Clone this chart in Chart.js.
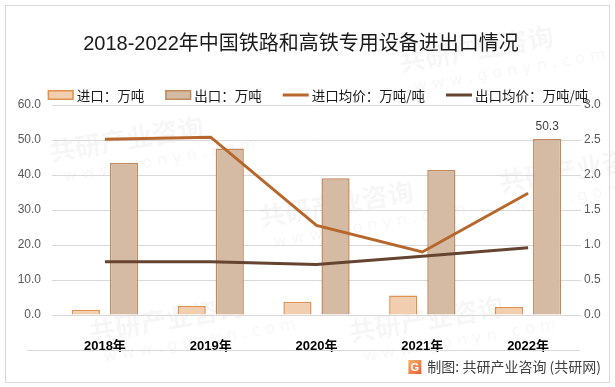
<!DOCTYPE html>
<html>
<head>
<meta charset="utf-8">
<script src="https://cdn.jsdelivr.net/npm/chart.js@4/dist/chart.umd.min.js"></script>
<style>
  html, body { margin: 0; padding: 0; background: #fff; }
</style>
</head>
<body>
<canvas id="chart" width="615" height="387"></canvas>
<script>
// data
const years = ['2018年', '2019年', '2020年', '2021年', '2022年']
const importVolume = [1.5, 2.6, 3.8, 5.6, 2.3]     // 进口：万吨
const exportVolume = [43.4, 47.6, 39.1, 41.4, 50.3] // 出口：万吨
const importPrice = [2.51, 2.54, 1.28, 0.90, 1.74]  // 进口均价：万吨/吨
const exportPrice = [0.76, 0.76, 0.72, 0.84, 0.96]  // 出口均价：万吨/吨
const seriesNames = ['进口：万吨', '出口：万吨', '进口均价：万吨/吨', '出口均价：万吨/吨']
const labelledPoint = 4 // only the 2022 export bar carries a value label

const title = '2018-2022年中国铁路和高铁专用设备进出口情况'
const source = '制图: 共研产业咨询 (共研网)'

const tickFont = { family: "'Liberation Sans', 'Noto Sans CJK SC', sans-serif", size: 12 }

const decor = {
  id: 'decor',
  beforeDraw (chart) {
    const { ctx } = chart
    ctx.save()
    ctx.fillStyle = '#fff'
    ctx.fillRect(0, 0, chart.width, chart.height)
    // faint watermarks
    ctx.fillStyle = 'rgba(0,0,0,0.035)'
    const marks = [[120, 150], [330, 215], [470, 60], [160, 330], [420, 330], [570, 180]]
    marks.forEach(([x, y]) => {
      ctx.save()
      ctx.translate(x, y)
      ctx.rotate(-0.17)
      ctx.font = "bold 26px 'Noto Sans CJK SC'"
      ctx.fillText('共研产业咨询', -70, 0)
      ctx.font = "16px 'DejaVu Sans'"
      ctx.fillText('w w w . g o n y n . c o m', -60, 22)
      ctx.restore()
    })
    ctx.restore()
  },
  afterDraw (chart) {
    const { ctx } = chart
    ctx.save()

    // title
    ctx.fillStyle = '#1a1a1a'
    ctx.font = "20px 'Liberation Sans', 'Noto Sans CJK SC', sans-serif"
    ctx.textAlign = 'center'
    ctx.textBaseline = 'middle'
    ctx.fillText(title, 301, 44)

    // legend
    ctx.font = "13.5px 'Noto Sans CJK SC', sans-serif"
    ctx.textAlign = 'left'
    const boxW = 26, gap = 21, textGap = 3
    const ds = chart.data.datasets
    const widths = ds.map(d => boxW + textGap + ctx.measureText(d.label).width)
    const total = widths.reduce((a, b) => a + b, 0) + gap * (ds.length - 1)
    let x = 318 - total / 2
    const ly = 95
    ds.forEach((d, i) => {
      if (d.type === 'line') {
        ctx.strokeStyle = d.borderColor
        ctx.lineWidth = 3
        ctx.beginPath()
        ctx.moveTo(x, ly)
        ctx.lineTo(x + boxW, ly)
        ctx.stroke()
      } else {
        ctx.fillStyle = d.backgroundColor
        ctx.fillRect(x, ly - 5, boxW, 10)
        ctx.strokeStyle = d.borderColor
        ctx.lineWidth = 1.5
        ctx.strokeRect(x + 0.75, ly - 4.25, boxW - 1.5, 8.5)
      }
      ctx.fillStyle = '#1a1a1a'
      ctx.fillText(d.label, x + boxW + textGap, ly + 1)
      x += widths[i] + gap
    })

    // value label on the 2022 export bar
    const bar = chart.getDatasetMeta(1).data[labelledPoint]
    ctx.fillStyle = '#404040'
    ctx.font = "12px 'Liberation Sans', sans-serif"
    ctx.textAlign = 'center'
    ctx.fillText(exportVolume[labelledPoint].toFixed(1), bar.x, bar.y - 12)

    // line under the category labels
    ctx.strokeStyle = '#d9d9d9'
    ctx.lineWidth = 1
    ctx.beginPath()
    ctx.moveTo(27, 350.5)
    ctx.lineTo(580, 350.5)
    ctx.stroke()

    // outer frame
    ctx.strokeRect(5.5, 5.5, 604, 377)

    // source with logo
    ctx.font = "14px 'Noto Sans CJK SC', sans-serif"
    ctx.textAlign = 'right'
    ctx.fillStyle = '#404040'
    ctx.fillText(source, 601, 367)
    const tw = ctx.measureText(source).width
    const lx = 601 - tw - 19
    const g = ctx.createLinearGradient(lx, 360, lx + 13, 374)
    g.addColorStop(0, '#f7b267')
    g.addColorStop(1, '#e8603c')
    ctx.fillStyle = g
    ctx.fillRect(lx, 360, 13, 14)
    ctx.fillStyle = '#fff'
    ctx.font = "bold 11px 'Liberation Sans', sans-serif"
    ctx.textAlign = 'center'
    ctx.fillText('G', lx + 6.5, 367.5)

    ctx.restore()
  }
}

new Chart(document.getElementById('chart'), {
  type: 'bar',
  data: {
    labels: years,
    datasets: [{
      label: seriesNames[0],
      data: importVolume,
      backgroundColor: '#f2ceb1',
      borderColor: '#de924f',
      borderWidth: 1.5,
      yAxisID: 'y',
      order: 3
    },
    {
      label: seriesNames[1],
      data: exportVolume,
      backgroundColor: '#d6bba4',
      borderColor: '#c0895e',
      borderWidth: 1.5,
      yAxisID: 'y',
      order: 4
    },
    {
      type: 'line',
      label: seriesNames[2],
      data: importPrice,
      borderColor: '#b7672c',
      borderWidth: 3,
      pointRadius: 0,
      tension: 0,
      yAxisID: 'y1',
      order: 1
    },
    {
      type: 'line',
      label: seriesNames[3],
      data: exportPrice,
      borderColor: '#654430',
      borderWidth: 3,
      pointRadius: 0,
      tension: 0,
      yAxisID: 'y1',
      order: 0
    }]
  },
  options: {
    responsive: false,
    devicePixelRatio: 1,
    animation: false,
    layout: { padding: { top: 105, left: 0, right: 0, bottom: 0 } },
    datasets: {
      bar: { categoryPercentage: 0.72, barPercentage: 0.74 }
    },
    plugins: {
      legend: { display: false },
      title: { display: false },
      tooltip: { enabled: false }
    },
    scales: {
      x: {
        grid: { display: false },
        border: { display: false },
        ticks: {
          padding: 16,
          color: '#000',
          font: { family: "'Liberation Sans', 'Noto Sans CJK SC', sans-serif", size: 13, weight: 'bold' }
        },
        afterFit (scale) { scale.height = 72 }
      },
      y: {
        position: 'left',
        min: 0,
        max: 60,
        grid: { color: '#d9d9d9', drawTicks: false },
        border: { display: false },
        ticks: {
          stepSize: 10,
          padding: 11,
          color: '#595959',
          font: tickFont,
          callback: v => v.toFixed(1)
        },
        afterFit (scale) { scale.width = 52 }
      },
      y1: {
        position: 'right',
        min: 0,
        max: 3,
        grid: { display: false, drawTicks: false },
        border: { display: false },
        ticks: {
          stepSize: 0.5,
          padding: 3,
          color: '#595959',
          font: tickFont,
          callback: v => v.toFixed(1)
        },
        afterFit (scale) { scale.width = 34 }
      }
    }
  },
  plugins: [decor]
})
</script>
</body>
</html>
